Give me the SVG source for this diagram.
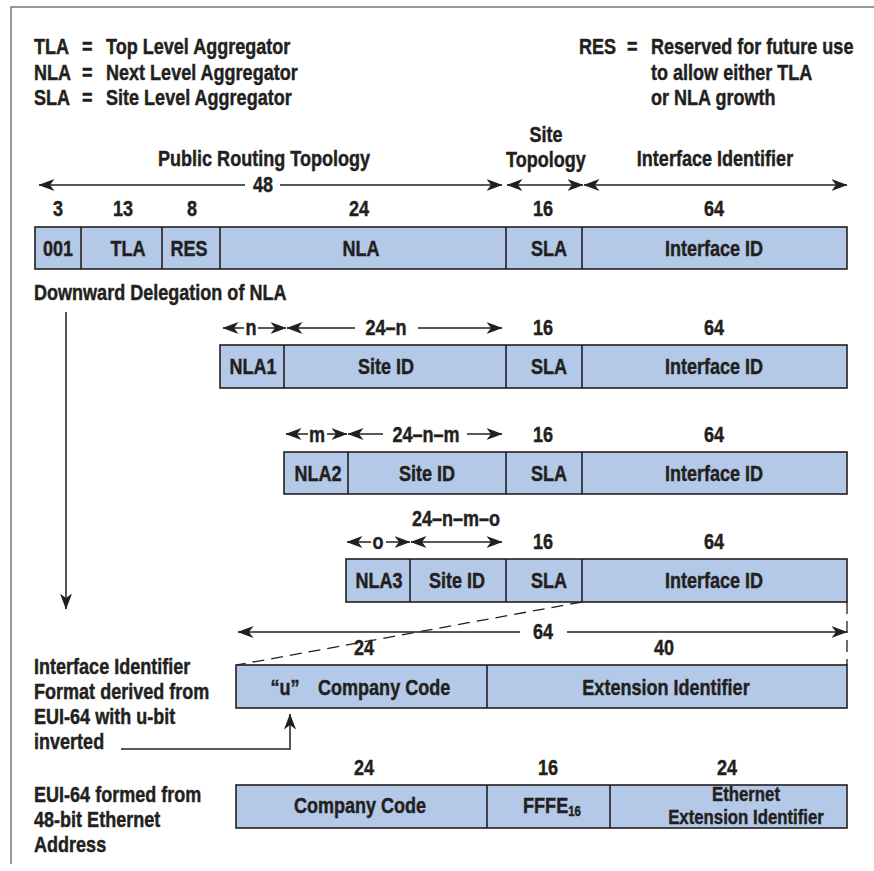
<svg xmlns="http://www.w3.org/2000/svg" width="874" height="871" viewBox="0 0 874 871">
<style>
text{font-family:"Liberation Sans",Arial,sans-serif;font-weight:bold;font-size:22px;fill:#231f20;stroke:#231f20;stroke-width:0.45}
.c{text-anchor:middle}
.box{fill:#b4c9e7;stroke:#231f20;stroke-width:1.6}
.div{stroke:#231f20;stroke-width:1.6}
.ln{stroke:#231f20;stroke-width:1.5;fill:none}
.dash{stroke:#231f20;stroke-width:1.3;fill:none;stroke-dasharray:12,7}
</style>
<defs>
<marker id="ah" viewBox="0 0 16 13" refX="15.5" refY="6.5" markerWidth="16" markerHeight="13" markerUnits="userSpaceOnUse" orient="auto-start-reverse">
<path d="M0,0.5 L16,6.5 L0,12.5 L4.5,6.5 Z" fill="#231f20"/>
</marker>
</defs>
<path d="M11,864 L11,7 L874,7" fill="none" stroke="#777" stroke-width="1.5"/>

<g id="legend">
<text transform="translate(34,54) scale(.82,1)">TLA</text><text transform="translate(82,54) scale(.82,1)">=</text><text transform="translate(106,54) scale(.82,1)">Top Level Aggregator</text>
<text transform="translate(34,80) scale(.82,1)">NLA</text><text transform="translate(82,80) scale(.82,1)">=</text><text transform="translate(106,80) scale(.82,1)">Next Level Aggregator</text>
<text transform="translate(34,105) scale(.82,1)">SLA</text><text transform="translate(82,105) scale(.82,1)">=</text><text transform="translate(106,105) scale(.82,1)">Site Level Aggregator</text>
<text transform="translate(579,54) scale(.82,1)">RES</text><text transform="translate(627,54) scale(.82,1)">=</text><text transform="translate(651,54) scale(.82,1)">Reserved for future use</text>
<text transform="translate(651,80) scale(.82,1)">to allow either TLA</text>
<text transform="translate(651,105) scale(.82,1)">or NLA growth</text>
</g>

<g id="header">
<text class="c" transform="translate(264,166) scale(.82,1)">Public Routing Topology</text>
<text class="c" transform="translate(546,142) scale(.82,1)">Site</text>
<text class="c" transform="translate(546,167) scale(.82,1)">Topology</text>
<text class="c" transform="translate(715,166) scale(.82,1)">Interface Identifier</text>
<text class="c" transform="translate(263,192) scale(.82,1)">48</text>
<text class="c" transform="translate(58,216) scale(.82,1)">3</text>
<text class="c" transform="translate(123,216) scale(.82,1)">13</text>
<text class="c" transform="translate(192,216) scale(.82,1)">8</text>
<text class="c" transform="translate(359,216) scale(.82,1)">24</text>
<text class="c" transform="translate(543,216) scale(.82,1)">16</text>
<text class="c" transform="translate(714,216) scale(.82,1)">64</text>
</g>

<g id="connectors">
<line class="ln" x1="39" y1="185" x2="245" y2="185" marker-start="url(#ah)"/>
<line class="ln" x1="280" y1="185" x2="502" y2="185" marker-end="url(#ah)"/>
<line class="ln" x1="507" y1="185" x2="583" y2="185" marker-start="url(#ah)" marker-end="url(#ah)"/>
<line class="ln" x1="584" y1="185" x2="847" y2="185" marker-start="url(#ah)" marker-end="url(#ah)"/>

<line class="ln" x1="223" y1="328" x2="244" y2="328" marker-start="url(#ah)"/>
<line class="ln" x1="258" y1="328" x2="286" y2="328" marker-end="url(#ah)"/>
<line class="ln" x1="287" y1="328" x2="355" y2="328" marker-start="url(#ah)"/>
<line class="ln" x1="418" y1="328" x2="502" y2="328" marker-end="url(#ah)"/>

<line class="ln" x1="286" y1="434" x2="308" y2="434" marker-start="url(#ah)"/>
<line class="ln" x1="327" y1="434" x2="347" y2="434" marker-end="url(#ah)"/>
<line class="ln" x1="348" y1="434" x2="383" y2="434" marker-start="url(#ah)"/>
<line class="ln" x1="467" y1="434" x2="502" y2="434" marker-end="url(#ah)"/>

<line class="ln" x1="347" y1="542" x2="371" y2="542" marker-start="url(#ah)"/>
<line class="ln" x1="386" y1="542" x2="410" y2="542" marker-end="url(#ah)"/>
<line class="ln" x1="411" y1="542" x2="502" y2="542" marker-start="url(#ah)" marker-end="url(#ah)"/>

<line class="ln" x1="66" y1="312" x2="66" y2="609" marker-end="url(#ah)"/>

<line class="dash" x1="582" y1="602" x2="237" y2="665"/>
<line class="dash" x1="847" y1="602" x2="847" y2="665" stroke-dasharray="10,8"/>

<line class="ln" x1="238" y1="632" x2="520" y2="632" marker-start="url(#ah)"/>
<line class="ln" x1="567" y1="632" x2="847" y2="632" marker-end="url(#ah)"/>

<polyline class="ln" points="121,749 290,749 290,714" marker-end="url(#ah)"/>
</g>

<g id="row-main">
<rect class="box" x="35" y="227" width="812" height="42"/>
<line class="div" x1="81" y1="227" x2="81" y2="269"/>
<line class="div" x1="162" y1="227" x2="162" y2="269"/>
<line class="div" x1="220" y1="227" x2="220" y2="269"/>
<line class="div" x1="506" y1="227" x2="506" y2="269"/>
<line class="div" x1="582" y1="227" x2="582" y2="269"/>
<text class="c" transform="translate(58,256) scale(.82,1)">001</text>
<text class="c" transform="translate(128,256) scale(.82,1)">TLA</text>
<text class="c" transform="translate(189,256) scale(.82,1)">RES</text>
<text class="c" transform="translate(361,256) scale(.82,1)">NLA</text>
<text class="c" transform="translate(549,256) scale(.82,1)">SLA</text>
<text class="c" transform="translate(714,256) scale(.82,1)">Interface ID</text>
</g>

<text transform="translate(34,300) scale(.82,1)">Downward Delegation of NLA</text>

<g id="row-nla1">
<text class="c" transform="translate(251,335) scale(.82,1)">n</text>
<text class="c" transform="translate(386,335) scale(.82,1)">24–n</text>
<text class="c" transform="translate(543,335) scale(.82,1)">16</text>
<text class="c" transform="translate(714,335) scale(.82,1)">64</text>
<rect class="box" x="220" y="345" width="627" height="43"/>
<line class="div" x1="284" y1="345" x2="284" y2="388"/>
<line class="div" x1="506" y1="345" x2="506" y2="388"/>
<line class="div" x1="582" y1="345" x2="582" y2="388"/>
<text class="c" transform="translate(253,374) scale(.82,1)">NLA1</text>
<text class="c" transform="translate(386,374) scale(.82,1)">Site ID</text>
<text class="c" transform="translate(549,374) scale(.82,1)">SLA</text>
<text class="c" transform="translate(714,374) scale(.82,1)">Interface ID</text>
</g>

<g id="row-nla2">
<text class="c" transform="translate(317,442) scale(.82,1)">m</text>
<text class="c" transform="translate(426,442) scale(.82,1)">24–n–m</text>
<text class="c" transform="translate(543,442) scale(.82,1)">16</text>
<text class="c" transform="translate(714,442) scale(.82,1)">64</text>
<rect class="box" x="284" y="452" width="563" height="42"/>
<line class="div" x1="348" y1="452" x2="348" y2="494"/>
<line class="div" x1="506" y1="452" x2="506" y2="494"/>
<line class="div" x1="582" y1="452" x2="582" y2="494"/>
<text class="c" transform="translate(318,481) scale(.82,1)">NLA2</text>
<text class="c" transform="translate(427,481) scale(.82,1)">Site ID</text>
<text class="c" transform="translate(549,481) scale(.82,1)">SLA</text>
<text class="c" transform="translate(714,481) scale(.82,1)">Interface ID</text>
</g>

<g id="row-nla3">
<text class="c" transform="translate(456,526) scale(.82,1)">24–n–m–o</text>
<text class="c" transform="translate(378,549) scale(.82,1)">o</text>
<text class="c" transform="translate(543,549) scale(.82,1)">16</text>
<text class="c" transform="translate(714,549) scale(.82,1)">64</text>
<rect class="box" x="346" y="559" width="501" height="43"/>
<line class="div" x1="410" y1="559" x2="410" y2="602"/>
<line class="div" x1="506" y1="559" x2="506" y2="602"/>
<line class="div" x1="582" y1="559" x2="582" y2="602"/>
<text class="c" transform="translate(379,588) scale(.82,1)">NLA3</text>
<text class="c" transform="translate(457,588) scale(.82,1)">Site ID</text>
<text class="c" transform="translate(549,588) scale(.82,1)">SLA</text>
<text class="c" transform="translate(714,588) scale(.82,1)">Interface ID</text>
</g>

<g id="row-iid">
<text class="c" transform="translate(543,639) scale(.82,1)">64</text>
<text class="c" transform="translate(364,655) scale(.82,1)">24</text>
<text class="c" transform="translate(664,655) scale(.82,1)">40</text>
<rect class="box" x="236" y="665" width="611" height="43"/>
<line class="div" x1="487" y1="665" x2="487" y2="708"/>
<text class="c" transform="translate(285,695) scale(.82,1)">“u”</text>
<text transform="translate(318,695) scale(.82,1)">Company Code</text>
<text class="c" transform="translate(666,695) scale(.82,1)">Extension Identifier</text>
<text transform="translate(34,674) scale(.82,1)">Interface Identifier</text>
<text transform="translate(34,699) scale(.82,1)">Format derived from</text>
<text transform="translate(34,724) scale(.82,1)">EUI-64 with u-bit</text>
<text transform="translate(34,749) scale(.82,1)">inverted</text>
</g>

<g id="row-eui">
<text class="c" transform="translate(364,775) scale(.82,1)">24</text>
<text class="c" transform="translate(548,775) scale(.82,1)">16</text>
<text class="c" transform="translate(727,775) scale(.82,1)">24</text>
<rect class="box" x="236" y="785" width="611" height="43"/>
<line class="div" x1="487" y1="785" x2="487" y2="828"/>
<line class="div" x1="610" y1="785" x2="610" y2="828"/>
<text class="c" transform="translate(360,813) scale(.82,1)">Company Code</text>
<text class="c" transform="translate(552,813) scale(.82,1)">FFFE<tspan font-size="14" dy="3">16</tspan></text>
<text class="c" transform="translate(746,801) scale(.84,1)" style="font-size:20px">Ethernet</text>
<text class="c" transform="translate(746,824) scale(.84,1)" style="font-size:20px">Extension Identifier</text>
<text transform="translate(34,802) scale(.82,1)">EUI-64 formed from</text>
<text transform="translate(34,827) scale(.82,1)">48-bit Ethernet</text>
<text transform="translate(34,852) scale(.82,1)">Address</text>
</g>
</svg>
